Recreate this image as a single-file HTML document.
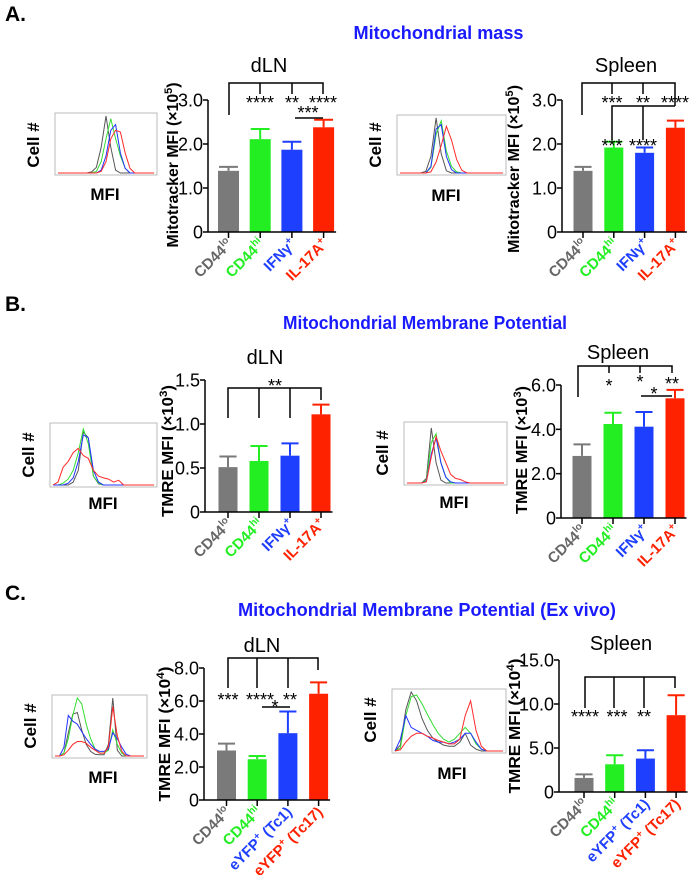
<!DOCTYPE html>
<html><head><meta charset="utf-8"><style>
html,body{margin:0;padding:0;background:#fff;}
svg{display:block;font-family:"Liberation Sans",Arial,sans-serif;}
</style></head><body>
<svg id="fig" width="698" height="875" viewBox="0 0 698 875" xmlns="http://www.w3.org/2000/svg">
<text x="5" y="21" font-size="21" font-weight="bold">A.</text>
<text x="5" y="311" font-size="21" font-weight="bold">B.</text>
<text x="5" y="600" font-size="21" font-weight="bold">C.</text>
<text x="438.5" y="39" font-size="18" font-weight="bold" fill="#1a1aff" text-anchor="middle" textLength="170" lengthAdjust="spacingAndGlyphs">Mitochondrial mass</text>
<text x="425" y="329" font-size="18" font-weight="bold" fill="#1a1aff" text-anchor="middle" textLength="284" lengthAdjust="spacingAndGlyphs">Mitochondrial Membrane Potential</text>
<text x="427" y="616" font-size="18" font-weight="bold" fill="#1a1aff" text-anchor="middle" textLength="378" lengthAdjust="spacingAndGlyphs">Mitochondrial Membrane Potential (Ex vivo)</text>
</svg>
<script>
// ---- data ----
const colors = ["#7a7a7a","#22ee22","#1f3fff","#ff2200"];
const catsAB = ["CD44","CD44","IFNγ","IL-17A"];
const supsAB = ["lo","hi","+","+"];
const catsC = ["CD44","CD44","eYFP","eYFP"];
const supsC = ["lo","hi","+","+"];
const suffC = [""," "," (Tc1)"," (Tc17)"];
const aDlnMeans = [1.39, 2.11, 1.87, 2.38];
const aDlnErr   = [0.09, 0.23, 0.18, 0.17];
const aSplMeans = [1.39, 1.92, 1.80, 2.37];
const aSplErr   = [0.09, 0.13, 0.12, 0.16];
const bDlnMeans = [0.51, 0.58, 0.64, 1.11];
const bDlnErr   = [0.12, 0.17, 0.14, 0.11];
const bSplMeans = [2.80, 4.24, 4.12, 5.40];
const bSplErr   = [0.52, 0.51, 0.66, 0.38];
const cDlnMeans = [3.00, 2.47, 4.05, 6.44];
const cDlnErr   = [0.42, 0.20, 1.31, 0.69];
const cSplMeans = [1.60, 3.15, 3.80, 8.73];
const cSplErr   = [0.40, 1.03, 0.95, 2.27];
const aTicks = [0,1,2,3];
const aTickLabels = ["0","1.0","2.0","3.0"];
const bDlnTicks = [0,0.5,1.0,1.5];
const bDlnTickLabels = ["0","0.5","1.0","1.5"];
const bSplTicks = [0,2,4,6];
const bSplTickLabels = ["0","2.0","4.0","6.0"];
const cDlnTicks = [0,2,4,6,8];
const cDlnTickLabels = ["0","2.0","4.0","6.0","8.0"];
const cSplTicks = [0,5,10,15];
const cSplTickLabels = ["0","5.0","10.0","15.0"];
// histogram curves (21 samples across the plot, relative height)
const hAdln = [
 [0,0,0,0,0,0,0,0.02,0.1,0.45,1,0.45,0.05,0,0,0,0,0,0,0,0],
 [0,0,0,0,0,0,0,0,0.03,0.2,0.6,0.95,0.6,0.3,0.08,0,0,0,0,0,0],
 [0,0,0,0,0,0,0,0,0,0.05,0.3,0.75,0.85,0.35,0.08,0,0,0,0,0,0],
 [0,0,0,0,0,0,0,0,0,0.03,0.2,0.6,0.75,0.72,0.35,0.08,0,0,0,0,0]];
const hAspl = [
 [0,0,0,0,0,0.03,0.3,1,0.35,0.04,0,0,0,0,0,0,0,0,0,0,0],
 [0,0,0,0,0,0,0.1,0.7,0.95,0.4,0.12,0.02,0,0,0,0,0,0,0,0,0],
 [0,0,0,0,0,0,0.12,0.8,0.88,0.3,0.06,0,0,0,0,0,0,0,0,0,0],
 [0,0,0,0,0,0,0.02,0.2,0.5,0.85,0.6,0.25,0.05,0,0,0,0,0,0,0,0]];
const hBdln = [
 [0,0,0,0,0.05,0.25,0.9,0.8,0.15,0.02,0,0,0,0,0,0,0,0,0,0,0],
 [0,0,0.03,0.1,0.25,0.55,0.95,0.7,0.15,0.03,0,0,0,0,0,0,0,0,0,0,0],
 [0,0,0,0.03,0.12,0.4,0.85,0.8,0.25,0.05,0,0,0,0,0,0,0,0,0,0,0],
 [0,0.05,0.3,0.4,0.55,0.62,0.5,0.45,0.25,0.15,0.12,0.1,0.05,0.08,0,0,0,0,0,0,0]];
const hBspl = [
 [0,0,0,0,0.08,0.95,0.35,0.05,0,0,0,0,0,0,0,0,0,0,0,0,0],
 [0,0,0,0,0.05,0.7,0.85,0.35,0.1,0,0,0,0,0,0,0,0,0,0,0,0],
 [0,0,0,0,0.03,0.5,0.78,0.35,0.1,0.02,0,0,0,0,0,0,0,0,0,0,0],
 [0,0,0,0,0.02,0.45,0.8,0.55,0.35,0.15,0.08,0.06,0.02,0,0,0,0,0,0,0,0]];
const hCdln = [
 [0,0,0.05,0.4,0.72,0.75,0.45,0.2,0.08,0.03,0.02,0.02,0.2,1,0.1,0,0,0,0,0,0],
 [0,0,0.05,0.3,0.7,1.0,0.9,0.55,0.3,0.12,0.05,0.05,0.1,0.45,0.2,0.05,0,0,0,0,0],
 [0,0,0.15,0.7,0.6,0.55,0.42,0.3,0.2,0.12,0.08,0.08,0.12,0.4,0.3,0.15,0.03,0,0,0,0],
 [0,0,0.02,0.1,0.2,0.25,0.25,0.22,0.15,0.1,0.05,0.05,0.15,0.85,0.35,0.08,0,0,0,0,0]];
const hCspl = [
 [0,0.1,0.7,1.0,0.85,0.55,0.35,0.22,0.15,0.1,0.08,0.08,0.15,0.3,0.1,0.03,0,0,0,0,0],
 [0,0.05,0.6,0.92,0.95,0.8,0.62,0.45,0.3,0.2,0.15,0.2,0.3,0.4,0.3,0.12,0.03,0,0,0,0],
 [0,0.2,0.6,0.4,0.35,0.3,0.25,0.18,0.15,0.15,0.12,0.15,0.2,0.3,0.3,0.15,0.03,0,0,0,0],
 [0,0.02,0.15,0.25,0.3,0.3,0.25,0.22,0.18,0.15,0.12,0.12,0.2,0.6,0.85,0.35,0.08,0,0,0,0]];

const NS="http://www.w3.org/2000/svg";
const svg=document.getElementById('fig');
function mk(tag,attrs,parent){const e=document.createElementNS(NS,tag);for(const k in attrs)e.setAttribute(k,attrs[k]);(parent||svg).appendChild(e);return e;}

function hist(id,x0,x1,y0,y1,curves,cellY,mfiX,mfiY){
  const g=mk('g',{});
  
  
  const box=mk('rect',{x:x0,y:y0,width:x1-x0,height:y1-y0,fill:'none',stroke:'#bbb','stroke-width':1},g);
  
  
  const n=curves[0].length;
  const hx=i=>x0+3+(x1-x0-6)*i/(n-1);
  const hy=v=>y1-2-(y1-y0-5)*v;
  const hc=["#555","#33dd33","#2233ff","#ff2a2a"];
  curves.forEach((c,k)=>{
    const p=mk('polyline',{points:c.map((v,i)=>hx(i).toFixed(1)+','+hy(v).toFixed(1)).join(' '),fill:'none',stroke:hc[k],'stroke-width':1},g);
    
    
  });
  const cl=mk('text',{x:0,y:0,'font-size':17,'font-weight':'bold','text-anchor':'middle',transform:`translate(${x0-16},${cellY}) rotate(-90)`});
  cl.textContent='Cell #';
  
  
  const ml=mk('text',{x:mfiX,y:mfiY+6,'font-size':17,'font-weight':'bold','text-anchor':'middle'});
  ml.textContent='MFI';
  
  
}

function panel(p){
  const g=mk('g',{});
  
  
  const ys=v=>p.y0-(p.y0-p.yTop)*v/p.max;
  const xc=i=>p.ax+p.first+p.step*i;
  p.means.forEach((m,i)=>{
    const b=mk('rect',{x:xc(i)-p.bw/2,y:ys(m),width:p.bw,height:p.y0-ys(m),fill:colors[i]},g);
    
    
    const top=ys(m+p.err[i]);
    const e=mk('path',{d:`M${xc(i)},${ys(m)}V${top}M${xc(i)-p.bw*0.45},${top}H${xc(i)+p.bw*0.45}`,stroke:colors[i],'stroke-width':2,fill:'none'},g);
    
    
  });
  const ya=mk('line',{x1:p.ax,y1:p.y0,x2:p.ax,y2:p.yTop,stroke:'#000','stroke-width':1.5},g);
  
  
  const xa=mk('line',{x1:p.ax,y1:p.y0,x2:xc(3)+p.bw/2+2,y2:p.y0,stroke:'#000','stroke-width':1.5},g);
  
  
  p.ticks.forEach((t,i)=>{
    const tk=mk('line',{x1:p.ax-5,x2:p.ax,y1:ys(t),y2:ys(t),stroke:'#000','stroke-width':1.5},g);
    
    
    const tl=mk('text',{x:p.ax-5,y:ys(t)+6.5,'font-size':18,'text-anchor':'end'},g);
    tl.textContent=p.tickLabels[i];
    
    
  });
  p.cats.forEach((c,i)=>{
    const tk=mk('line',{x1:xc(i),x2:xc(i),y1:p.y0,y2:p.y0+6,stroke:'#000','stroke-width':1.5},g);
    
    
    const t=mk('text',{x:0,y:0,'font-size':15,'font-weight':'bold','text-anchor':'end',fill:colors[i]==="#7a7a7a"?"#666":colors[i],transform:`translate(${xc(i)+5},${p.y0+13}) rotate(-45)`},g);
    
    
    const t1=mk('tspan',{},t);t1.textContent=c;
    const t2=mk('tspan',{'font-size':10,dy:-6},t);t2.textContent=p.sups[i];
    if(p.suff&&p.suff[i]){const t3=mk('tspan',{dy:6},t);t3.textContent=p.suff[i];}
  });
  const yt=mk('text',{x:0,y:0,'font-size':16,'font-weight':'bold','text-anchor':'middle',textLength:p.ylen,lengthAdjust:'spacingAndGlyphs',transform:`translate(${p.ylx+3},${p.yly}) rotate(-90)`},g);
  
  
  const y1=mk('tspan',{},yt);y1.textContent=p.ytitle+' (×10';
  const y2=mk('tspan',{'font-size':11,dy:-6},yt);y2.textContent=p.exp;
  const y3=mk('tspan',{dy:6},yt);y3.textContent=')';
  const st=mk('text',{x:p.stx,y:p.sty+7,'font-size':20,'text-anchor':'middle'},g);
  st.textContent=p.sub;
  
  
  const br=mk('path',{d:p.lines,stroke:'#000','stroke-width':1.5,fill:'none'},g);
  
  
  p.stars.forEach(s=>{
    const t=mk('text',{x:s[0],y:s[1]+10,'font-size':18,'text-anchor':'middle'},g);
    t.textContent=s[2];
    
    
  });
}

hist('a-dln',55,157,113,175,hAdln,145,105,194);
hist('a-spleen',397,506,115,175,hAspl,145,446,195);
hist('b-dln',50,157,423,487,hBdln,455,103,503);
hist('b-spleen',404,507,422,485,hBspl,453,454,502);
hist('c-dln',52,147,695,758,hCdln,726,103,777);
hist('c-spleen',392,506,689,753,hCspl,720,452,773);

panel({id:'a-dln',ax:208,y0:232,yTop:100,max:3,first:20.5,step:31.7,bw:21,means:aDlnMeans,err:aDlnErr,ticks:aTicks,tickLabels:aTickLabels,cats:catsAB,sups:supsAB,
 ytitle:'Mitotracker MFI',exp:'5',ylx:175,yly:165,ylen:165,sub:'dLN',stx:269,sty:65,
 lines:'M229,115V83H323V94M260,83V94M292,83V94M295,118H323',
 stars:[[260,99,'****'],[292,99,'**'],[323,99,'****'],[308,109,'***']]});
panel({id:'a-spleen',ax:562,y0:232,yTop:100,max:3,first:21,step:30.8,bw:19,means:aSplMeans,err:aSplErr,ticks:aTicks,tickLabels:aTickLabels,cats:catsAB,sups:supsAB,
 ytitle:'Mitotracker MFI',exp:'5',ylx:516,yly:169,ylen:168,sub:'Spleen',stx:626,sty:65,
 lines:'M582,115V83H675V106M612,83V94M643,83V94M612,140V106H675M643,106V140',
 stars:[[612,99,'***'],[643,99,'**'],[675,99,'****'],[612,142,'***'],[643,142,'****']]});
panel({id:'b-dln',ax:205,y0:512,yTop:380,max:1.5,first:23,step:31,bw:19,means:bDlnMeans,err:bDlnErr,ticks:bDlnTicks,tickLabels:bDlnTickLabels,cats:catsAB,sups:supsAB,
 ytitle:'TMRE MFI',exp:'3',ylx:170,yly:451,ylen:132,sub:'dLN',stx:265,sty:357,
 lines:'M228,418V388H321V400M259,388V418M290,388V418',
 stars:[[275,382,'**']]});
panel({id:'b-spleen',ax:561,y0:518,yTop:385,max:6,first:21,step:31,bw:19,means:bSplMeans,err:bSplErr,ticks:bSplTicks,tickLabels:bSplTickLabels,cats:catsAB,sups:supsAB,
 ytitle:'TMRE MFI',exp:'3',ylx:524,yly:450,ylen:128,sub:'Spleen',stx:618,sty:352,
 lines:'M578,397V366H672V373M609,366V373M640,366V373M641,396H672',
 stars:[[609,382,'*'],[640,378,'*'],[672,380,'**'],[654,390,'*']]});
panel({id:'c-dln',ax:204,y0:800,yTop:668,max:8,first:22.5,step:30.7,bw:19,means:cDlnMeans,err:cDlnErr,ticks:cDlnTicks,tickLabels:cDlnTickLabels,cats:catsC,sups:supsC,suff:suffC,
 ytitle:'TMRE MFI',exp:'4',ylx:167,yly:734,ylen:135,sub:'dLN',stx:262,sty:645,
 lines:'M228,688V658H318V670M257,658V688M288,658V688M262,707H290',
 stars:[[228,696,'***'],[260,696,'****'],[290,696,'**'],[275,703,'*']]});
panel({id:'c-spleen',ax:559,y0:792,yTop:660,max:15,first:25,step:30.7,bw:19,means:cSplMeans,err:cSplErr,ticks:cSplTicks,tickLabels:cSplTickLabels,cats:catsC,sups:supsC,suff:suffC,
 ytitle:'TMRE MFI',exp:'4',ylx:517,yly:726,ylen:135,sub:'Spleen',stx:621,sty:643,
 lines:'M585,708V677H675V688M614,677V708M644,677V708',
 stars:[[585,713,'****'],[617,713,'***'],[644,713,'**']]});
</script>
</body></html>
